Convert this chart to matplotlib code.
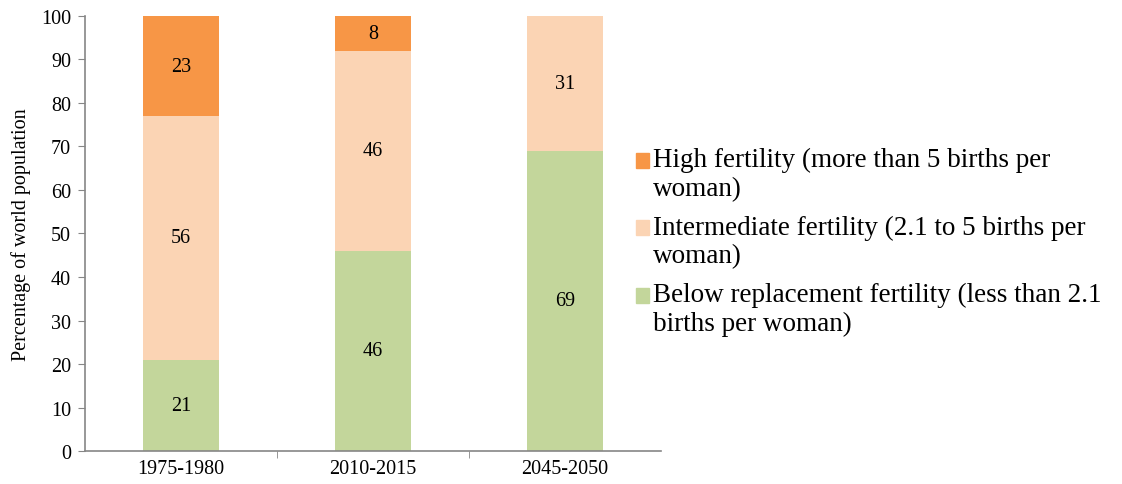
import matplotlib
matplotlib.use("Agg")
import matplotlib.pyplot as plt
from matplotlib.patches import Patch, Rectangle
from matplotlib.legend_handler import HandlerPatch

plt.rcParams["font.family"] = ["Liberation Serif", "DejaVu Serif"]

periods = ["1975-1980", "2010-2015", "2045-2050"]
below = [21, 46, 69]
intermediate = [56, 46, 31]
high = [23, 8, 0]

series_labels = [
    "High fertility (more than 5 births per\nwoman)",
    "Intermediate fertility (2.1 to 5 births per\nwoman)",
    "Below replacement fertility (less than 2.1\nbirths per woman)",
]

c_high = "#F79646"
c_mid = "#FBD4B4"
c_low = "#C3D69B"

fig = plt.figure(figsize=(11.22, 4.85), dpi=100)
ax = fig.add_axes([0.0758, 0.068, 0.5134, 0.897])

x = list(range(len(periods)))
w = 0.4
bottoms_mid = below
bottoms_high = [b + m for b, m in zip(below, intermediate)]

ax.bar(x, below, w, color=c_low)
ax.bar(x, intermediate, w, bottom=bottoms_mid, color=c_mid)
ax.bar(x, high, w, bottom=bottoms_high, color=c_high)

for i in x:
    for val, base in ((below[i], 0), (intermediate[i], bottoms_mid[i]), (high[i], bottoms_high[i])):
        if val > 0:
            ax.text(i, base + val / 2, f"{val}", ha="center", va="center", fontsize=14.5)

ax.set_xlim(-0.5, len(periods) - 0.5)
ax.set_ylim(0, 100)
ax.set_yticks(range(0, 101, 10))
ax.set_xticks(x)
ax.set_xticklabels(periods)
ax.set_xticks([0.5, 1.5], minor=True)
ax.tick_params(axis="x", which="major", length=0, labelsize=14.5, pad=6)
ax.tick_params(axis="x", which="minor", length=5, color="#868686")
ax.tick_params(axis="y", length=5, color="#868686", labelsize=14.5, pad=5)
ax.set_ylabel("Percentage of world population", fontsize=14.5, labelpad=7)

for side in ("top", "right"):
    ax.spines[side].set_visible(False)
for side in ("left", "bottom"):
    ax.spines[side].set_color("#868686")
    ax.spines[side].set_linewidth(1.2)


# legend squares sit on the first text line instead of the middle of the entry
def top_square(legend, orig_handle, xdescent, ydescent, width, height, fontsize):
    return Rectangle((-xdescent, -ydescent + 0.5 * fontsize), width, height)


handles = [Patch(color=c_high), Patch(color=c_mid), Patch(color=c_low)]
fig.legend(handles, series_labels, loc="center left", bbox_to_anchor=(0.5455, 0.50),
           frameon=False, fontsize=19.5, handlelength=0.45, handleheight=0.45,
           handletextpad=0.15, labelspacing=0.5,
           handler_map={Patch: HandlerPatch(patch_func=top_square)})

fig.savefig("out.png", dpi=100)
